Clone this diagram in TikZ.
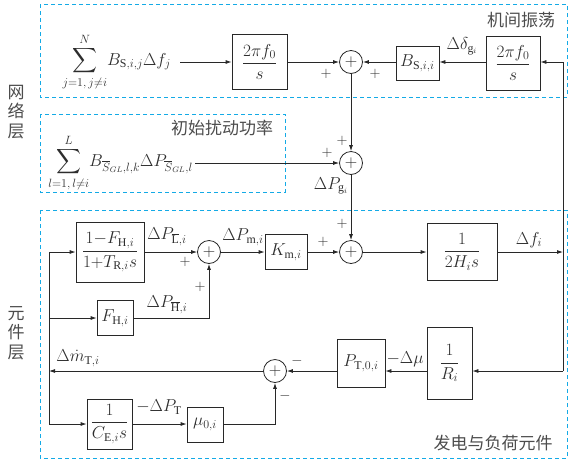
\documentclass[tikz,border=0pt]{standalone}
\usepackage{amsmath}
\usepackage{fontspec}
\setmainfont{Liberation Serif}
\setmathrm{Liberation Serif}
\newfontfamily\cjk{Noto Sans CJK SC}
\usetikzlibrary{arrows.meta,calc}
\definecolor{linec}{RGB}{40,40,40}
\definecolor{txtc}{RGB}{45,45,45}
\definecolor{cyanc}{RGB}{20,170,230}
\tikzset{
  blk/.style={draw=linec, line width=0.8pt, inner sep=1pt, align=center, text=txtc},
  sumc/.style={circle, draw=linec, line width=0.8pt, minimum size=23pt, inner sep=0pt, text=txtc},
  arr/.style={-{Latex[length=6pt,width=4pt]}, line width=0.8pt, draw=linec},
  ln/.style={line width=0.8pt, draw=linec},
  dbox/.style={draw=cyanc, dash pattern=on 4pt off 3pt, line width=1pt},
  lbl/.style={text=txtc, inner sep=0pt},
  sgn/.style={text=txtc, inner sep=0pt, font=\fontsize{14}{16}\selectfont},
  zh/.style={text=txtc!85, inner sep=0pt, font=\cjk\fontsize{17}{19}\selectfont}
}
\begin{document}
\begin{tikzpicture}[x=1pt,y=-1pt, font=\fontsize{17}{20}\selectfont]
\useasboundingbox (0,0) rectangle (572,464);
% dashed frames
\draw[dbox] (40,4) rectangle (567,97);
\draw[dbox] (40,114) rectangle (285,192);
\draw[dbox] (40,210) rectangle (567,458);
% frame titles
\node[zh] (t1) at (521,20) {机间振荡};
\node[zh] (t2) at (222,128) {初始扰动功率};
\node[zh] (t3) at (493,443) {发电与负荷元件};
\node[zh, align=center, font=\cjk\fontsize{17}{19.5}\selectfont] (l1) at (16,112) {网\\络\\层};
\node[zh, align=center, font=\cjk\fontsize{17}{19.5}\selectfont] (l2) at (16,333) {元\\件\\层};
% top row
\node[lbl, anchor=east] (sumN) at (171,62) {$\displaystyle\sum_{j=1,\,j\neq i}^{N}\! B_{\mathrm{S},i,j}\Delta f_j$};
\node[blk, minimum width=55pt, minimum height=55pt] (A) at (259.5,62) {$\dfrac{2\pi f_0}{s}$};
\node[sumc] (s1) at (351,62) {$+$};
\node[blk, minimum width=43pt, minimum height=34pt] (Bs) at (417.5,63) {$B_{\mathrm{S},i,i}$};
\node[blk, minimum width=54pt, minimum height=54pt] (B) at (513,63) {$\dfrac{2\pi f_0}{s}$};
% middle row
\node[lbl, anchor=east] (sumL) at (193,163) {$\displaystyle\sum_{l=1,\,l\neq i}^{L}\! B_{\overline{S}_{GL},l,k}\Delta P_{\overline{S}_{GL},l}$};
\node[sumc] (s2) at (351,163) {$+$};
% bottom area
\node[sumc] (s3) at (351,252) {$+$};
\node[blk, minimum width=70pt, minimum height=57pt] (H) at (462,251.5) {$\dfrac{1}{2H_i s}$};
\node[blk, minimum width=42pt, minimum height=35pt] (Km) at (286,252) {$K_{\mathrm{m},i}$};
\node[sumc] (s4) at (209,252) {$+$};
\node[blk, minimum width=68pt, minimum height=60pt] (F1) at (110,252) {$\dfrac{1{-}F_{\mathrm{H},i}}{1{+}T_{\mathrm{R},i}s}$};
\node[blk, minimum width=36pt, minimum height=35pt] (FH) at (115,318) {$F_{\mathrm{H},i}$};
\node[sumc] (s5) at (275,371) {$+$};
\node[blk, minimum width=48pt, minimum height=48pt] (PT) at (361,363) {$P_{\mathrm{T},0,i}$};
\node[blk, minimum width=45pt, minimum height=72pt] (R) at (449.5,363) {$\dfrac{1}{R_i}$};
\node[blk, minimum width=45pt, minimum height=50pt] (CE) at (109.5,424) {$\dfrac{1}{C_{\mathrm{E},i}s}$};
\node[blk, minimum width=36pt, minimum height=35pt] (mu) at (205,424.5) {$\mu_{0,i}$};
% helper coordinates
\coordinate (rt) at (563,62);
\coordinate (rf) at (563,252);
\coordinate (rb) at (563,371);
\coordinate (lt) at (49,252);
\coordinate (lb) at (49,424);
% connectors top
\draw[arr] ($(sumN.east)+(9,0)$) -- (A.west);
\draw[arr] (A.east) -- (s1.west);
\draw[arr] (Bs.west |- s1) -- (s1.east);
\draw[arr] (B.west |- s1) -- (Bs.east |- s1);
\draw[ln] (rb) -- (rt);
\draw[arr] (rt) -- (B.east |- rt);
\draw[arr] (s1.south) -- (s2.north);
\draw[arr] ($(sumL.east)+(2,0)$) -- (s2.west);
\draw[arr] (s2.south) -- (s3.north);
% connectors bottom
\draw[arr] (Km.east) -- (s3.west);
\draw[arr] (s3.east) -- (H.west |- s3);
\draw[arr] (H.east |- rf) -- (rf);
\draw[ln] (lt) -- (lb);
\draw[arr] (lt) -- (F1.west |- lt);
\draw[arr] (lt |- FH) -- (FH.west);
\draw[arr] (F1.east |- s4) -- (s4.west);
\draw[arr] (FH.east) -| (s4.south);
\draw[arr] (s4.east) -- (Km.west);
\draw[arr] (rb) -- (R.east |- rb);
\draw[arr] (R.west |- rb) -- (PT.east |- rb);
\draw[arr] (PT.west |- rb) -- (s5.east);
\draw[arr] (s5.west) -- (lt |- s5);
\draw[arr] (lb) -- (CE.west |- lb);
\draw[arr] (CE.east |- lb) -- (mu.west |- lb);
\draw[arr] (mu.east |- lb) -| (s5.south);
% signal labels
\node[lbl] (dd) at (462,46) {$\Delta\delta_{\mathrm{g}_i}$};
\node[lbl] (dpg) at (331,186) {$\Delta P_{\mathrm{g}_i}$};
\node[lbl] (dpl) at (167,237) {$\Delta P_{\overline{\mathrm{L}},i}$};
\node[lbl] (dpm) at (243,237) {$\Delta P_{\mathrm{m},i}$};
\node[lbl] (dph) at (167,305) {$\Delta P_{\overline{\mathrm{H}},i}$};
\node[lbl] (dfi) at (529,240) {$\Delta f_i$};
\node[lbl] (dmt) at (78,358) {$\Delta\dot{m}_{\mathrm{T},i}$};
\node[lbl] (dpt) at (159,407) {$-\Delta P_{\mathrm{T}}$};
\node[lbl] (dmu) at (405,359) {$-\Delta\mu$};
% signs
\node[sgn] (p1) at (326,74) {$+$};
\node[sgn] (p2) at (375,74) {$+$};
\node[sgn] (p3) at (342,141) {$+$};
\node[sgn] (p4) at (327,153) {$+$};
\node[sgn] (p5) at (342,224) {$+$};
\node[sgn] (p6) at (323,242) {$+$};
\node[sgn] (p7) at (185,262) {$+$};
\node[sgn] (p8) at (200,287) {$+$};
\node[sgn] (m1) at (297,361) {$-$};
\node[sgn] (m2) at (285,396) {$-$};
\end{tikzpicture}
\end{document}
